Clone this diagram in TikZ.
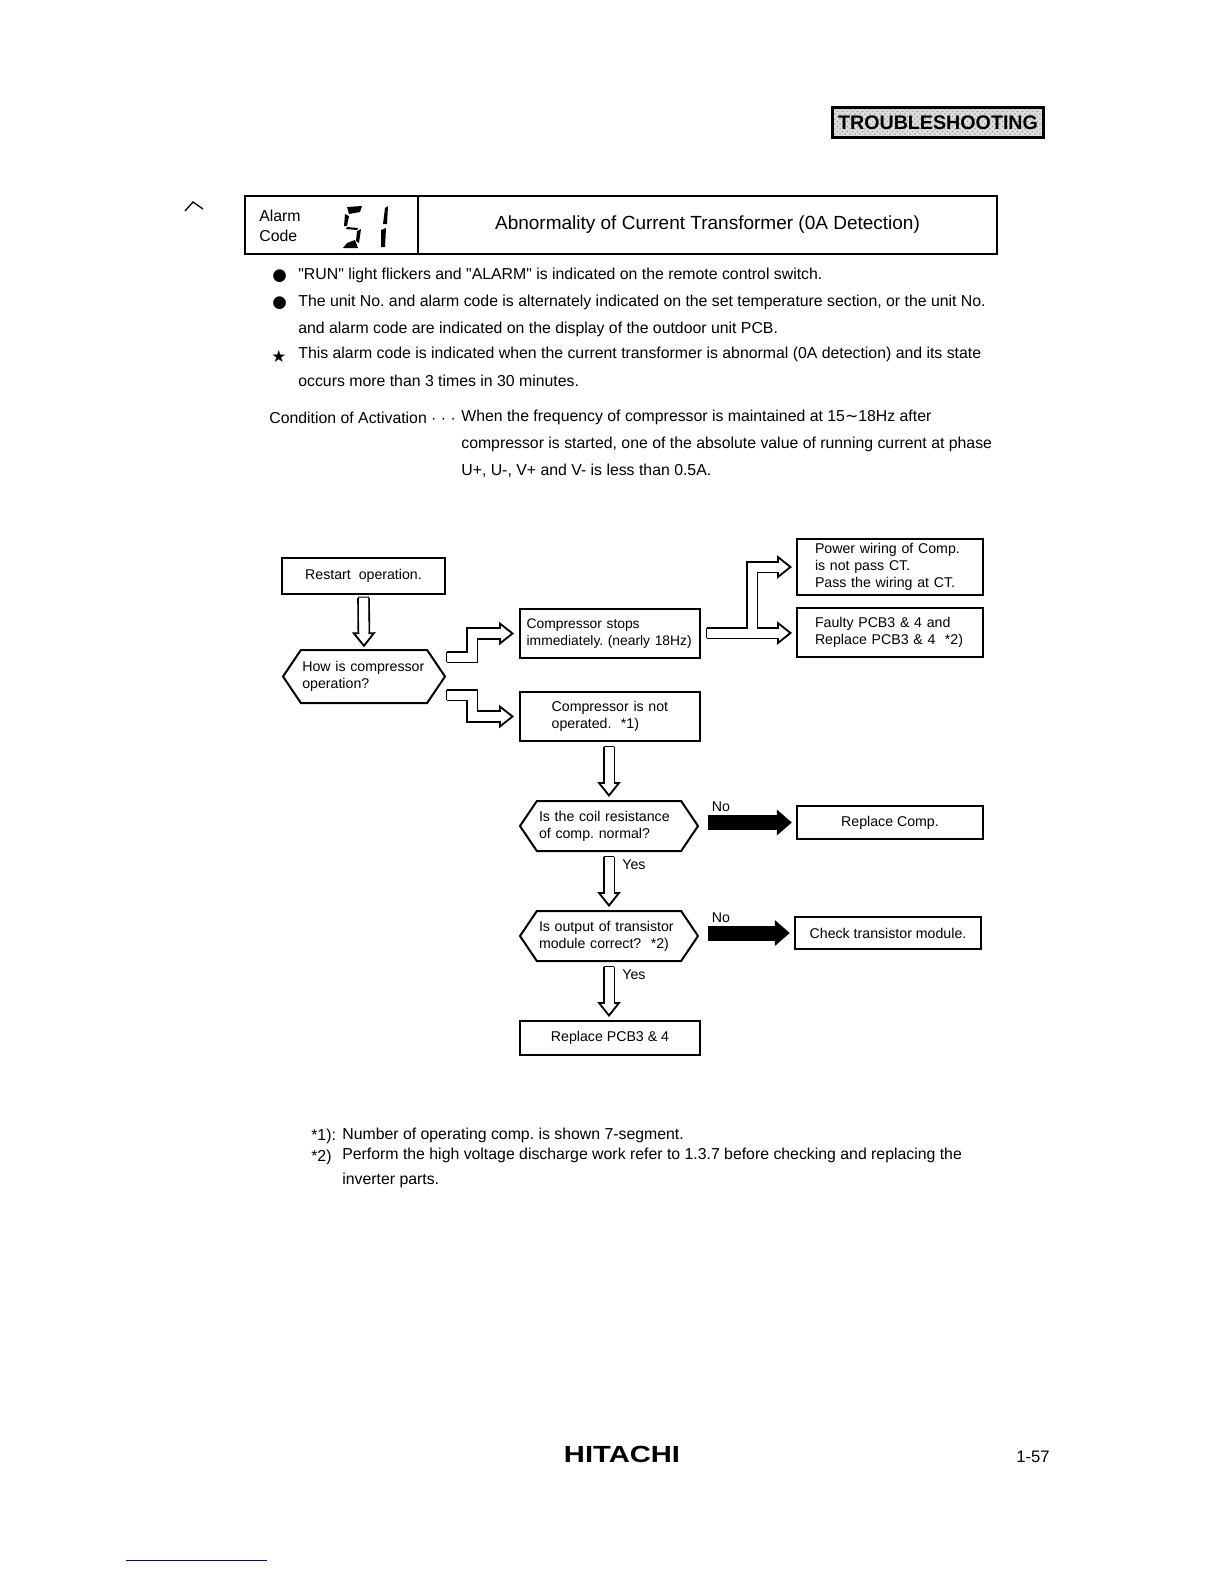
\documentclass[tikz,border=0pt]{standalone}
\usepackage{fontspec}
\setmainfont{Liberation Sans}[Ligatures=TeXOff]
\newfontfamily\symfont{DejaVu Sans}
\usetikzlibrary{arrows.meta,shapes.symbols,patterns}
\frenchspacing
\tikzset{
    textline/.style={anchor=west, inner sep=0pt, text height=7pt, text depth=2pt, font=\fontsize{9.5}{11}\selectfont},
    flowbox/.style={draw, line width=1.2pt, inner sep=0pt, align=left, font=\fontsize{8.5}{10.2}\selectfont},
    flowhex/.style={draw, line width=1.2pt, signal, signal to=west and east, signal pointer angle=112, inner sep=0pt, align=left, font=\fontsize{8.5}{10.2}\selectfont},
    tag/.style={inner sep=0pt, font=\fontsize{8.5}{10}\selectfont},
    hollow/.style 2 args={double, double distance=5.4pt, line width=1.1pt, shorten <=#1, shorten >=#2,
        {Bar[width=6.5pt,length=0pt]}-{Triangle[open,fill=white,length=9pt,width=14pt]},
        postaction={draw=white, double=none, line width=5.4pt, arrows=-, shorten <=#1+0.6pt, shorten >=#2+7pt}},
    solidarrow/.style={line width=9pt, -{Triangle[length=9pt,width=15pt]}, shorten <=5pt, shorten >=2.5pt},
    seg/.style={fill=black}
}
\begin{document}
\begin{tikzpicture}[x=0.6pt,y=-0.6pt]
    \useasboundingbox (0,0) rectangle (1224,1584);

    % Kopf der Seite
    \node[draw, line width=1.4pt, preaction={fill=gray!25}, pattern=crosshatch dots, pattern color=gray!80, minimum width=126.5pt, minimum height=18pt, inner sep=0pt, font=\fontsize{11.8}{12}\bfseries\selectfont] (chapter) at (938,122.5) {TROUBLESHOOTING};

    % Titelzeile
    \node[draw, line width=1.2pt, minimum width=103.8pt, minimum height=34.5pt, inner sep=0pt] (alarmcell) at (331.5,225) {};
    \node[draw, line width=1.2pt, minimum width=347.4pt, minimum height=34.5pt, inner sep=0pt, font=\fontsize{11.4}{13}\selectfont] (titlecell) at (707.5,225) {Abnormality of Current Transformer (0A Detection)};
    \node[textline] (alarmword) at (259,217) {Alarm};
    \node[textline] (codeword) at (259,237) {Code};

    % Anzeige 5 1
    \fill[seg] (347,207) -- (362,206) -- (360,212) -- (349,214) -- cycle;
    \fill[seg] (345,214) -- (349,216) -- (347,226) -- (344,226) -- cycle;
    \fill[seg] (347,227) -- (358,228) -- (357,230) -- (346,229) -- cycle;
    \fill[seg] (357,231) -- (361,229) -- (359,243) -- (356,241) -- cycle;
    \fill[seg] (347,243) -- (355,240) -- (358,248) -- (343,248) -- cycle;
    \fill[seg] (385,208) -- (388,206) -- (387,224) -- (383,224) -- cycle;
    \fill[seg] (381,230) -- (386,228) -- (385,247) -- (381,247) -- cycle;

    % Hinweise
    \node[textline, font=\symfont\fontsize{10}{11}\selectfont] (dotone) at (272,276) {●};
    \node[textline, font=\symfont\fontsize{10}{11}\selectfont] (dottwo) at (272,303) {●};
    \node[textline, font=\symfont\fontsize{10}{11}\selectfont] (starone) at (271,358) {★};
    \node[textline] (noteone) at (298,275) {"RUN" light flickers and "ALARM" is indicated on the remote control switch.};
    \node[textline] (notetwo) at (298,302) {The unit No. and alarm code is alternately indicated on the set temperature section, or the unit No.};
    \node[textline] (notetwob) at (298,329) {and alarm code are indicated on the display of the outdoor unit PCB.};
    \node[textline] (notethree) at (298,354) {This alarm code is indicated when the current transformer is abnormal (0A detection) and its state};
    \node[textline] (notethreeb) at (298,382) {occurs more than 3 times in 30 minutes.};

    % Bedingung
    \node[textline] (condlabel) at (269,419) {Condition of Activation · · ·};
    \node[textline] (condone) at (461,417) {When the frequency of compressor is maintained at 15{\symfont ∼}18Hz after};
    \node[textline] (condtwo) at (461,444) {compressor is started, one of the absolute value of running current at phase};
    \node[textline] (condthree) at (461,471) {U+, U-, V+ and V- is less than 0.5A.};

    % Kaesten links und Mitte
    \node[flowbox, minimum width=97.8pt, minimum height=21.6pt, align=center] (restart) at (363.5,576) {Restart\ \ operation.};
    \node[flowhex, minimum width=97.2pt, minimum height=31.8pt, text width=74pt] (howq) at (364,676.5) {How is compressor\\operation?};
    \node[flowbox, minimum width=108pt, minimum height=29.4pt, text width=100pt, font=\fontsize{8.3}{10.2}\selectfont] (stops) at (610,633.5) {Compressor stops\\immediately. (nearly 18Hz)};
    \node[flowbox, minimum width=108pt, minimum height=29.4pt, text width=70pt] (notop) at (610,716.5) {Compressor is not\\operated.\ \ *1)};

    % Kaesten rechts
    \node[flowbox, minimum width=111.6pt, minimum height=33.6pt, text width=90pt] (wiring) at (890,567) {Power wiring of Comp.\\is not pass CT.\\Pass the wiring at CT.};
    \node[flowbox, minimum width=111.6pt, minimum height=29.4pt, text width=90pt] (faulty) at (890,632.5) {Faulty PCB3 \& 4 and\\Replace PCB3 \& 4\ \ *2)};

    % Abfragen unten
    \node[flowhex, minimum width=106.8pt, minimum height=30pt, text width=84pt] (coilq) at (609,826) {Is the coil resistance\\of comp. normal?};
    \node[flowhex, minimum width=106.8pt, minimum height=30pt, text width=84pt] (outq) at (609,936) {Is output of transistor\\module correct?\ \ *2)};
    \node[flowbox, minimum width=111.6pt, minimum height=19.8pt, align=center] (repcomp) at (890,822.5) {Replace Comp.};
    \node[flowbox, minimum width=111.6pt, minimum height=19.2pt, align=center] (checkmod) at (888,933) {Check transistor module.};
    \node[flowbox, minimum width=108pt, minimum height=20.4pt, align=center] (reppcb) at (610,1038) {Replace PCB3 \& 4};

    % Beschriftungen
    \node[tag] (noa) at (721,807) {No};
    \node[tag] (nob) at (721,918) {No};
    \node[tag] (yesa) at (634,865) {Yes};
    \node[tag] (yesb) at (634,975) {Yes};

    % Freie Enden
    \coordinate (howup) at (446,657);
    \coordinate (howdown) at (446,695);
    \coordinate (stopsout) at (706,633);
    \coordinate (fork) at (752,633);

    % Pfeile
    \draw[hollow={1pt}{1pt}] (restart.south) -- (howq.north);
    \draw[hollow={0pt}{3pt}] (howup) -- ++(26,0) |- (stops.west);
    \draw[hollow={0pt}{3pt}] (howdown) -- ++(26,0) |- (notop.west);
    \draw[hollow={0pt}{2.4pt}] (fork) |- (wiring.west);
    \draw[hollow={0pt}{2.4pt}] (stopsout) -- (stopsout -| faulty.west);
    \draw[white, line width=5.4pt] (fork) -- ++(0,-9);
    \draw[hollow={2.4pt}{1.8pt}] (notop.south -| coilq.north) -- (coilq.north);
    \draw[hollow={2.4pt}{1.8pt}] (coilq.south) -- (outq.north);
    \draw[hollow={2.4pt}{1.8pt}] (outq.south) -- (reppcb.north -| outq.south);
    \draw[solidarrow] (coilq.east |- repcomp.west) -- (repcomp.west);
    \draw[solidarrow] (outq.east |- checkmod.west) -- (checkmod.west);

    % Fussnoten
    \node[textline] (starnum) at (311,1136) {*1):};
    \node[textline] (footone) at (342,1135) {Number of operating comp. is shown 7-segment.};
    \node[textline] (starnumb) at (311,1157) {*2)};
    \node[textline] (foottwo) at (342,1155) {Perform the high voltage discharge work refer to 1.3.7 before checking and replacing the};
    \node[textline] (foottwob) at (342,1180) {inverter parts.};

    % Seitenende
    \node[inner sep=0pt, xscale=1.25, font=\fontsize{14}{14}\bfseries\selectfont] (brand) at (622,1454) {HITACHI};
    \node[inner sep=0pt, font=\fontsize{10}{10}\selectfont] (pagenum) at (1033,1457) {1-57};

    % Randspuren
    \draw[line width=0.8pt] (185,211) -- (193,202) -- (203,209);
    \draw[blue!70!black, line width=0.6pt] (126,1560) -- (267,1560);
\end{tikzpicture}
\end{document}
